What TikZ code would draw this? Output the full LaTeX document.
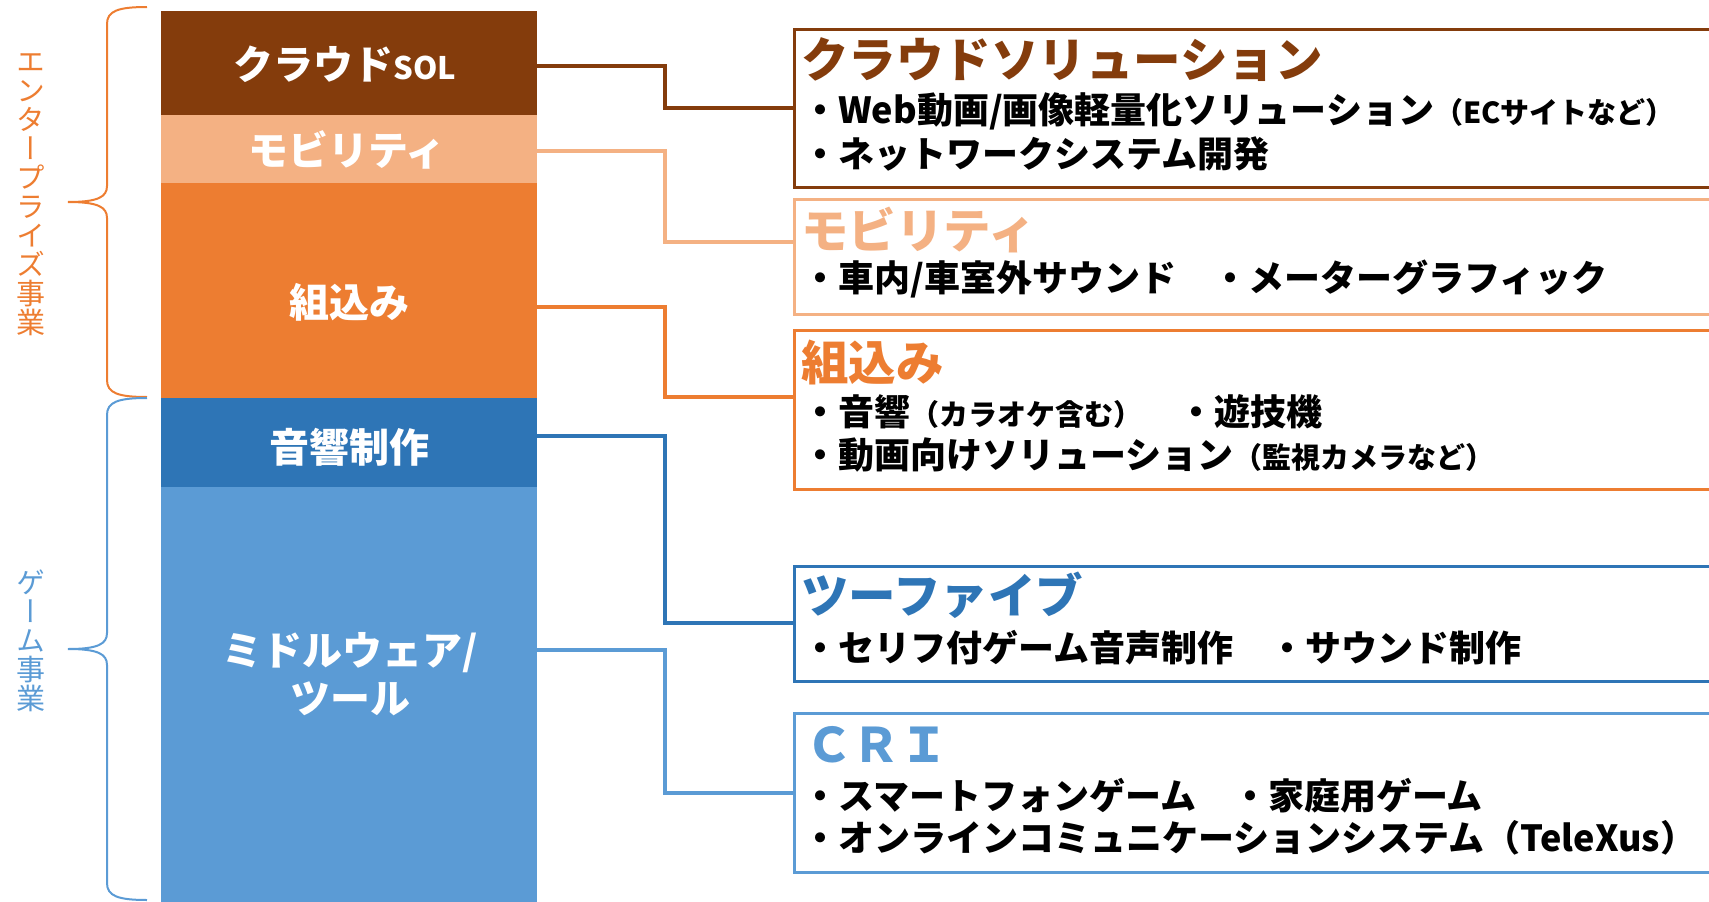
\documentclass[tikz,border=0pt]{standalone}
\usepackage{fontspec}
\newfontfamily\jp{Noto Sans CJK JP}
\newfontfamily\jpv[RawFeature=+vert]{Noto Sans CJK JP}
\definecolor{cbrown}{HTML}{843C0C}
\definecolor{clight}{HTML}{F4B183}
\definecolor{corange}{HTML}{ED7D31}
\definecolor{cdblue}{HTML}{2E75B6}
\definecolor{clblue}{HTML}{5B9BD5}
\newcommand{\paren}[1]{{\fontsize{29}{31}\selectfont #1}}
\begin{document}
\begin{tikzpicture}[x=1pt,y=-1pt,
  seg/.style={fill=#1, draw=none, minimum width=376pt, anchor=north west, inner sep=0pt, outer sep=0pt},
  segtext/.style={text=white, font=\jp\bfseries\fontsize{40}{48}\selectfont, inner sep=0pt, align=center},
  box/.style={draw=#1, line width=3pt, fill=white, minimum width=940pt, anchor=north west, inner sep=0pt, outer sep=0pt},
  title/.style={text=#1, font=\jp\bfseries\fontsize{47.5}{51}\selectfont, anchor=west, inner sep=0pt},
  item/.style={text=black, font=\jp\bfseries\fontsize{36}{40}\selectfont, anchor=west, inner sep=0pt},
  conn/.style={draw=#1, line width=4.5pt},
  bracepath/.style={draw=#1, line width=2pt},
  vlabel/.style={text=#1, font=\jpv\fontsize{29}{29}\selectfont, align=center, inner sep=0pt},
]
\useasboundingbox (0,0) rectangle (1709,902);
\clip (0,0) rectangle (1709,902);

% left stacked bar
\node[seg=cbrown, minimum height=104pt] (cloud) at (161,11) {};
\node[seg=clight, minimum height=68pt] (mob) at (161,115) {};
\node[seg=corange, minimum height=215pt] (emb) at (161,183) {};
\node[seg=cdblue, minimum height=89pt] (sound) at (161,398) {};
\node[seg=clblue, minimum height=420pt] (mw) at (161,487) {};

\node[segtext] (cloudT) at (345,64) {クラウド{\fontsize{31}{34}\selectfont SOL}};
\node[segtext] (mobT) at (347,150) {モビリティ};
\node[segtext] (embT) at (349,302) {組込み};
\node[segtext] (soundT) at (349,447) {音響制作};
\node[segtext] (mwT) at (350,674) {ミドルウェア/\\ツール};

% braces and labels
\draw[bracepath=corange] (147,7) .. controls (118,7) and (107,11) .. (107,24) -- (107,186)
  .. controls (107,197) and (98,202) .. (68,202) .. controls (98,202) and (107,207) .. (107,218)
  -- (107,380) .. controls (107,393) and (118,397) .. (147,397);
\draw[bracepath=clblue] (147,398) .. controls (118,398) and (107,402) .. (107,415) -- (107,633)
  .. controls (107,644) and (98,649) .. (68,649) .. controls (98,649) and (107,654) .. (107,665)
  -- (107,883) .. controls (107,896) and (118,900) .. (147,900);
\node[vlabel=corange] (ent) at (31,195) {エ\\ン\\タ\\ー\\プ\\ラ\\イ\\ズ\\事\\業};
\node[vlabel=clblue] (game) at (31,641) {ゲ\\ー\\ム\\事\\業};

% right boxes
\node[box=cbrown, minimum height=158pt] (b1) at (794,29) {};
\node[box=clight, minimum height=115pt] (b2) at (794,199) {};
\node[box=corange, minimum height=159pt] (b3) at (794,330) {};
\node[box=cdblue, minimum height=115pt] (b4) at (794,566) {};
\node[box=clblue, minimum height=159pt] (b5) at (794,713) {};

% connectors
\coordinate (p1) at (665,66);  \coordinate (q1) at (665,108);
\coordinate (p2) at (665,151); \coordinate (q2) at (665,242);
\coordinate (p3) at (665,307); \coordinate (q3) at (665,397);
\coordinate (p4) at (665,436); \coordinate (q4) at (665,623);
\coordinate (p5) at (665,650); \coordinate (q5) at (665,793);
\draw[conn=cbrown] (cloud.east |- p1) -- (p1) -- (q1) -- (b1.west |- q1);
\draw[conn=clight] (mob.east |- p2) -- (p2) -- (q2) -- (b2.west |- q2);
\draw[conn=corange] (emb.east |- p3) -- (p3) -- (q3) -- (b3.west |- q3);
\draw[conn=cdblue] (sound.east |- p4) -- (p4) -- (q4) -- (b4.west |- q4);
\draw[conn=clblue] (mw.east |- p5) -- (p5) -- (q5) -- (b5.west |- q5);

% box texts
\node[title=cbrown] (t1) at (801,60) {クラウドソリューション};
\node[item] (i11) at (802,111) {・Web動画/画像軽量化ソリューション\paren{（ECサイトなど）}};
\node[item] (i12) at (802,154) {・ネットワークシステム開発};
\node[title=clight] (t2) at (801,230) {モビリティ};
\node[item] (i21) at (802,279) {・車内/車室外サウンド　・メーターグラフィック};
\node[title=corange] (t3) at (801,362) {組込み};
\node[item] (i31) at (802,412) {・音響\paren{（カラオケ含む）}　・遊技機};
\node[item] (i32) at (802,455) {・動画向けソリューション\paren{（監視カメラなど）}};
\node[title=cdblue] (t4) at (801,595) {ツーファイブ};
\node[item] (i41) at (802,648) {・セリフ付ゲーム音声制作　・サウンド制作};
\node[title=clblue] (t5) at (805,745) {ＣＲＩ};
\node[item] (i51) at (802,796) {・スマートフォンゲーム　・家庭用ゲーム};
\node[item] (i52) at (802,838) {・オンラインコミュニケーションシステム（TeleXus）};
\end{tikzpicture}
\end{document}
